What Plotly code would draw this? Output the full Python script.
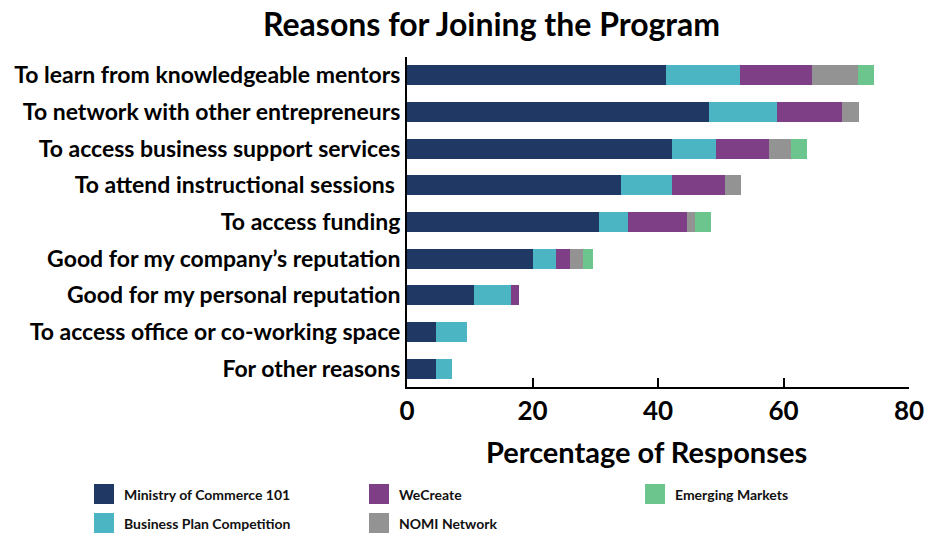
import plotly.graph_objects as go

# Survey reasons, top to bottom
reasons = [
    "To learn from knowledgeable mentors",
    "To network with other entrepreneurs",
    "To access business support services",
    "To attend instructional sessions ",
    "To access funding",
    "Good for my company\u2019s reputation",
    "Good for my personal reputation",
    "To access office or co-working space",
    "For other reasons",
]

# Share of responses (%) contributed by each program
ministry_of_commerce = [41.2, 48.2, 42.3, 34.1, 30.6, 20.0, 10.6, 4.7, 4.7]
business_plan = [11.8, 10.7, 7.0, 8.1, 4.6, 3.7, 5.9, 4.9, 2.5]
wecreate = [11.6, 10.5, 8.4, 8.4, 9.4, 2.2, 1.4, 0, 0]
nomi_network = [7.2, 2.7, 3.5, 2.6, 1.3, 2.2, 0, 0, 0]
emerging_markets = [2.7, 0, 2.6, 0, 2.6, 1.6, 0, 0, 0]

series_names = ["Ministry of Commerce 101", "Business Plan Competition", "WeCreate",
                "NOMI Network", "Emerging Markets"]
series_values = [ministry_of_commerce, business_plan, wecreate, nomi_network, emerging_markets]
series_colors = ["#203864", "#4BB5C4", "#7F3F86", "#939393", "#6BC58D"]

x_ticks = [0, 20, 40, 60, 80]

W, H = 925, 533
ML, MR, MT, MB = 407, 16, 57, 146
PW, PH = W - ML - MR, H - MT - MB
FONT = "Lato, 'Open Sans', sans-serif"


def px_x(px):
    return (px - ML) / PW


def px_y(py):
    return (MT + PH - py) / PH


fig = go.Figure()
for name, vals, col in zip(series_names, series_values, series_colors):
    fig.add_trace(go.Bar(
        y=reasons, x=vals, name=name, orientation="h",
        marker=dict(color=col, line=dict(width=0)),
        showlegend=False,
    ))

# Legend laid out as three columns, two rows
legend_slots = [(94, 494), (94, 523), (369, 494), (369, 523), (645, 494)]
shapes = []
annotations = []
for (sx, sy), name, col in zip(legend_slots, series_names, series_colors):
    shapes.append(dict(type="rect", xref="paper", yref="paper",
                       x0=px_x(sx), x1=px_x(sx + 20), y0=px_y(sy + 10), y1=px_y(sy - 10),
                       fillcolor=col, line=dict(width=0)))
    annotations.append(dict(xref="paper", yref="paper", x=px_x(sx + 28), y=px_y(sy),
                            xanchor="left", yanchor="middle", showarrow=False,
                            text="<b>%s</b>" % name,
                            font=dict(family=FONT, size=14, color="#111111")))

# Chart title and x-axis title
annotations.append(dict(xref="paper", yref="paper", x=px_x(491), y=px_y(23),
                        xanchor="center", yanchor="middle", showarrow=False,
                        text="<b>Reasons for Joining the Program</b>",
                        font=dict(family=FONT, size=32, color="#000000")))
annotations.append(dict(xref="paper", yref="paper", x=px_x(646), y=px_y(451),
                        xanchor="center", yanchor="middle", showarrow=False,
                        text="<b>Percentage of Responses</b>",
                        font=dict(family=FONT, size=29, color="#000000")))

fig.update_layout(
    width=W, height=H,
    margin=dict(l=ML, r=MR, t=MT, b=MB, autoexpand=False),
    barmode="stack", bargap=0.455,
    plot_bgcolor="white", paper_bgcolor="white",
    font=dict(family=FONT, color="#000000"),
    shapes=shapes, annotations=annotations,
    xaxis=dict(
        range=[0, 80], tickvals=x_ticks, ticktext=["<b>%d</b>" % v for v in x_ticks],
        showgrid=False, zeroline=False,
        showline=True, linecolor="#000000", linewidth=2,
        ticks="inside", ticklen=9, tickwidth=2, tickcolor="#000000",
        tickfont=dict(family=FONT, size=26, color="#000000"),
        ticklabelstandoff=0,
    ),
    yaxis=dict(
        categoryorder="array", categoryarray=reasons, autorange="reversed",
        tickvals=reasons, ticktext=["<b>%s</b>" % r for r in reasons],
        showgrid=False, zeroline=False,
        showline=True, linecolor="#000000", linewidth=2,
        ticks="", ticklabelstandoff=0,
        tickfont=dict(family=FONT, size=23, color="#000000"),
    ),
)

fig.write_html("out.html")
